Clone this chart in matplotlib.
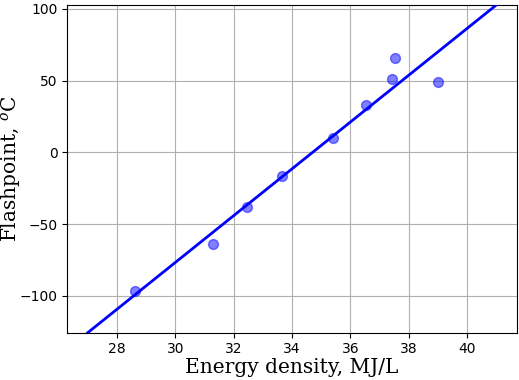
import numpy as np
import matplotlib
matplotlib.use("Agg")
import matplotlib.pyplot as plt

plt.rcParams['mathtext.fontset'] = 'dejavuserif'

# energy density (MJ/L) vs flashpoint (C)
energy = np.array([28.61, 31.30, 32.46, 33.66, 35.39, 36.53, 37.44, 37.54, 39.01])
flash = np.array([-96.7, -64.0, -37.8, -16.3, 10.2, 32.9, 51.0, 65.6, 48.7])
xticks = [28, 30, 32, 34, 36, 38, 40]
yticks = [-100, -50, 0, 50, 100]

# least squares fit
k, b = np.polyfit(energy, flash, 1)
xfit = np.array([27.0, 41.0])
yfit = k * xfit + b

fig = plt.figure(figsize=(5.19, 3.8), dpi=100)
ax = fig.add_axes([0.1297, 0.1245, 0.8659, 0.8623])

ax.plot(xfit, yfit, color='blue', lw=2, zorder=3)
ax.scatter(energy, flash, s=50, color='blue', alpha=0.5, zorder=4)

ax.set_xlim(xfit[0] - 0.05 * (xfit[1] - xfit[0]), xfit[1] + 0.05 * (xfit[1] - xfit[0]))
ax.set_ylim(yfit.min(), yfit.max())
ax.set_xticks(xticks)
ax.set_yticks(yticks)
ax.grid(True, color='#b0b0b0', lw=0.8)
ax.set_axisbelow(True)
ax.tick_params(labelsize=10)

ax.set_xlabel('Energy density, MJ/L', family='DejaVu Serif', fontsize=14.5, labelpad=1.5)
ax.set_ylabel('Flashpoint, $^o$C', family='DejaVu Serif', fontsize=14.5)
ax.yaxis.set_label_coords(-0.098, 0.5)

fig.savefig('out.png', dpi=100)
